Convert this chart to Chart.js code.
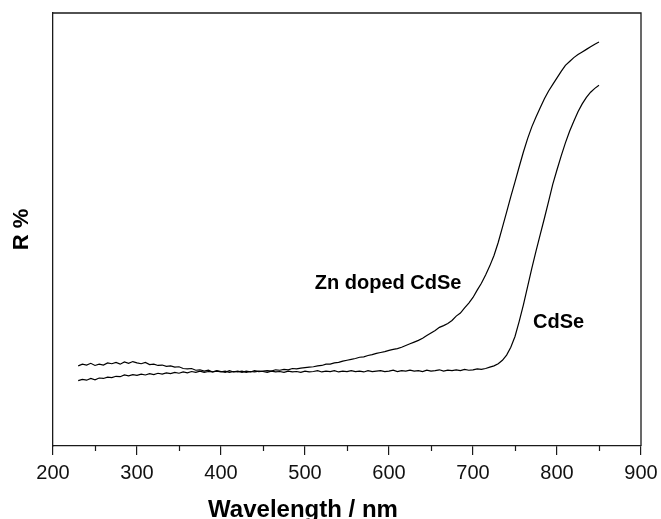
<!DOCTYPE html>
<html>
<head>
<meta charset="utf-8">
<script src="https://cdn.jsdelivr.net/npm/chart.js@4/dist/chart.umd.min.js"></script>
<style>
  html, body { margin: 0; padding: 0; background: #ffffff; }
  #wrap { width: 661px; height: 519px; }
</style>
</head>
<body>
<div id="wrap"><canvas id="c" width="661" height="519"></canvas></div>
<script>
// ---- data ----
const wavelengths = [
  230,235,240,245,250,255,260,265,270,275,
  280,285,290,295,300,305,310,315,320,325,
  330,335,340,345,350,355,360,365,370,375,
  380,385,390,395,400,405,410,415,420,425,
  430,435,440,445,450,455,460,465,470,475,
  480,485,490,495,500,505,510,515,520,525,
  530,535,540,545,550,555,560,565,570,575,
  580,585,590,595,600,605,610,615,620,625,
  630,635,640,645,650,655,660,665,670,675,
  680,685,690,695,700,705,710,715,720,725,
  730,735,740,745,750,755,760,765,770,775,
  780,785,790,795,800,805,810,815,820,825,
  830,835,840,845,850
];
const znDopedCdSe = [
  18.5,18.9,18.7,19.1,18.6,18.9,18.7,19.2,19.0,19.3,
  18.9,19.4,19.1,19.5,19.2,19.0,19.3,18.8,18.9,18.6,
  18.7,18.4,18.5,18.2,18.3,17.9,17.8,17.9,17.5,17.6,
  17.3,17.5,17.1,17.4,17.2,17.0,17.4,17.1,17.3,17.0,
  17.3,17.1,17.4,17.2,17.3,17.4,17.3,17.6,17.5,17.7,
  17.6,17.9,17.8,18.0,18.1,18.2,18.3,18.5,18.6,18.9,
  18.9,19.2,19.3,19.6,19.8,20.0,20.2,20.5,20.6,20.9,
  21.1,21.4,21.6,21.8,22.1,22.3,22.5,22.8,23.2,23.6,
  24.0,24.4,24.9,25.5,26.1,26.7,27.4,27.8,28.3,29.0,
  30.0,30.7,31.9,33.0,34.3,36.0,37.6,39.5,41.6,44.0,
  47.0,50.5,54.0,57.6,61.0,64.5,67.9,71.0,73.7,76.0,
  78.1,80.2,82.0,83.5,85.0,86.5,87.9,88.8,89.7,90.4,
  91.0,91.6,92.2,92.8,93.3
];
const cdSe = [
  15.1,15.4,15.2,15.6,15.3,15.7,15.6,15.9,15.8,16.1,
  16.0,16.4,16.2,16.5,16.3,16.6,16.4,16.7,16.5,16.8,
  16.6,16.9,16.7,17.0,16.8,17.1,16.9,17.2,17.0,17.3,
  17.0,17.2,17.1,17.3,17.1,17.3,17.0,17.2,17.1,17.3,
  17.0,17.2,17.1,17.3,17.2,17.0,17.3,17.1,17.2,17.0,
  17.3,17.1,17.2,17.0,17.3,17.1,17.2,17.4,17.1,17.3,
  17.2,17.4,17.1,17.3,17.2,17.4,17.2,17.3,17.1,17.4,
  17.2,17.3,17.4,17.2,17.3,17.5,17.2,17.4,17.3,17.5,
  17.3,17.4,17.2,17.5,17.3,17.4,17.6,17.3,17.5,17.4,
  17.6,17.4,17.7,17.5,17.6,17.8,17.7,17.9,18.2,18.5,
  19.0,19.8,21.0,22.8,25.3,28.8,32.6,36.8,41.0,45.0,
  48.8,52.6,56.5,60.5,63.8,67.0,70.0,72.7,75.0,77.2,
  79.0,80.5,81.7,82.6,83.3
];
const xTicks = [200, 300, 400, 500, 600, 700, 800, 900];
const xMinorTicks = [250, 350, 450, 550, 650, 750, 850];
const seriesLabels = [
  { text: 'Zn doped CdSe', x: 599, y: 37.6 },
  { text: 'CdSe', x: 802, y: 28.6 }
];
const xTitle = 'Wavelength / nm';
const yTitle = 'R %';

// ---- chart ----
const toPoints = (xs, ys) => xs.map((x, i) => ({ x: x, y: ys[i] }));
const FONT = '"Liberation Sans", Arial, Helvetica, sans-serif';

const framePlugin = {
  id: 'frameAndText',
  afterDraw(chart) {
    const ctx = chart.ctx;
    const a = chart.chartArea;
    const xs = chart.scales.x, ys = chart.scales.y;
    ctx.save();
    // frame (top & right)
    ctx.strokeStyle = '#1a1a1a';
    ctx.lineWidth = 1.3;
    ctx.beginPath();
    ctx.moveTo(a.left, a.top);
    ctx.lineTo(a.right, a.top);
    ctx.lineTo(a.right, a.bottom);
    ctx.stroke();
    // minor ticks
    ctx.lineWidth = 1.2;
    ctx.beginPath();
    xMinorTicks.forEach(v => {
      const px = Math.round(xs.getPixelForValue(v)) + 0.5;
      ctx.moveTo(px, a.bottom);
      ctx.lineTo(px, a.bottom + 5);
    });
    ctx.stroke();
    // series labels
    ctx.fillStyle = '#000';
    ctx.font = 'bold 20px ' + FONT;
    ctx.textAlign = 'center';
    ctx.textBaseline = 'middle';
    seriesLabels.forEach(l => {
      ctx.fillText(l.text, xs.getPixelForValue(l.x), ys.getPixelForValue(l.y));
    });
    // x title
    ctx.font = 'bold 24px ' + FONT;
    ctx.textBaseline = 'alphabetic';
    ctx.fillText(xTitle, 303, 517);
    ctx.restore();
  }
};

new Chart(document.getElementById('c'), {
  type: 'line',
  data: {
    datasets: [
      { label: 'Zn doped CdSe', data: toPoints(wavelengths, znDopedCdSe) },
      { label: 'CdSe', data: toPoints(wavelengths, cdSe) }
    ]
  },
  options: {
    responsive: false,
    animation: false,
    devicePixelRatio: 1,
    elements: {
      line: { borderColor: '#000', borderWidth: 1.2, tension: 0, fill: false },
      point: { radius: 0 }
    },
    layout: { padding: { top: 13, right: 20, left: 0, bottom: 0 } },
    plugins: { legend: { display: false }, tooltip: { enabled: false } },
    scales: {
      x: {
        type: 'linear',
        min: 200, max: 900,
        afterBuildTicks: s => { s.ticks = xTicks.map(v => ({ value: v })); },
        afterFit: s => { s.height = 73; s.paddingLeft = 0; s.paddingRight = 0; },
        border: { display: true, color: '#1a1a1a', width: 1.3 },
        grid: { display: true, drawOnChartArea: false, drawTicks: true, tickLength: 9, color: '#1a1a1a', lineWidth: 1.2 },
        ticks: { color: '#111', font: { family: FONT, size: 20 }, padding: 6, maxRotation: 0 },
        title: { display: false }
      },
      y: {
        type: 'linear',
        min: 0, max: 100,
        afterFit: s => { s.width = 53; },
        border: { display: true, color: '#1a1a1a', width: 1.3 },
        grid: { display: false, drawTicks: false },
        ticks: { display: false },
        title: { display: true, text: yTitle, color: '#000', font: { family: FONT, size: 22, weight: 'bold' }, padding: { top: 9, bottom: 0 } }
      }
    }
  },
  plugins: [framePlugin]
});
</script>
</body>
</html>
